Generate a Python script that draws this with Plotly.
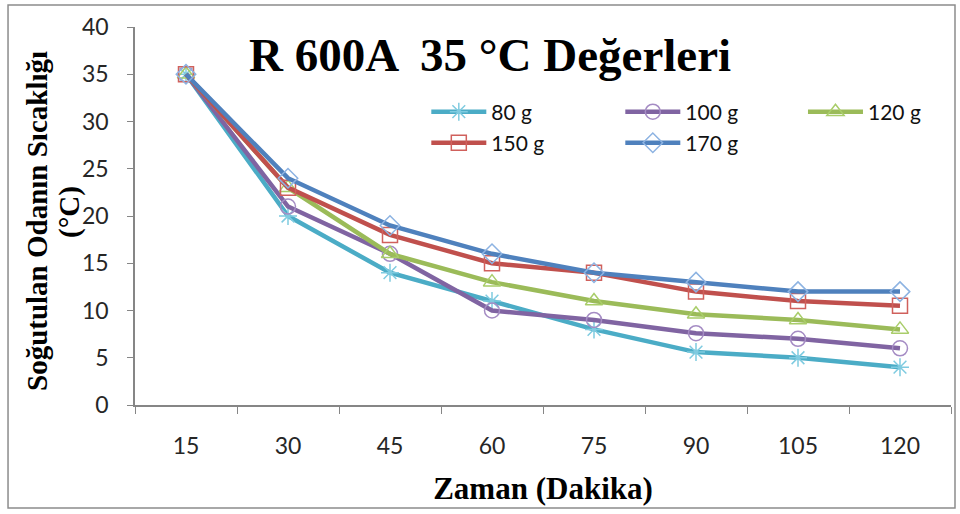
import plotly.graph_objects as go

categories = ["15", "30", "45", "60", "75", "90", "105", "120"]
series_names = ["80 g", "100 g", "120 g", "150 g", "170 g"]
v80 = [35, 20, 14, 11, 8, 5.6, 5, 4]
v100 = [35, 21, 16, 10, 9, 7.6, 7, 6]
v120 = [35, 23, 16, 13, 11, 9.6, 9, 8]
v150 = [35, 23, 18, 15, 14, 12, 11, 10.5]
v170 = [35, 24, 19, 16, 14, 13, 12, 12]
y_ticks = [0, 5, 10, 15, 20, 25, 30, 35, 40]

values = [v80, v100, v120, v150, v170]
line_colors = ["#4BACC6", "#8064A2", "#9BBB59", "#C0504D", "#4F81BD"]
marker_colors = ["#7FCBE0", "#A58CC4", "#A9CD6A", "#D0605C", "#8DB3E2"]
symbols = ["asterisk-open", "circle-open", "triangle-up-open", "square-open", "diamond-open"]
legend_ids = ["legend", "legend", "legend2", "legend3", "legend3"]

fig = go.Figure()
for name, vals, lc, mc, sym, lg in zip(series_names, values, line_colors, marker_colors, symbols, legend_ids):
    fig.add_trace(go.Scatter(
        x=categories, y=vals, name=name, mode="lines+markers",
        line=dict(color=lc, width=4.5),
        marker=dict(symbol=sym, size=15, color=mc, line=dict(color=mc, width=1.5)),
        legend=lg,
    ))

leg_font = dict(family="Lato, Noto Sans, sans-serif", size=21, color="#111")
common = dict(orientation="h", xanchor="left", yanchor="middle",
              itemwidth=55, font=leg_font, bgcolor="rgba(0,0,0,0)")
serif = "Liberation Serif, Times New Roman, serif"

fig.update_layout(
    width=960, height=514,
    margin=dict(l=135, r=9, t=27, b=109, autoexpand=False),
    paper_bgcolor="white", plot_bgcolor="white",
    showlegend=True,
    legend=dict(x=0.357, y=0.775, entrywidth=124, entrywidthmode="pixels", **common),
    legend2=dict(x=0.8186, y=0.775, **common),
    legend3=dict(x=0.357, y=0.693, entrywidth=124, entrywidthmode="pixels", **common),
    annotations=[
        dict(text="<b>R 600A  35 °C Değerleri</b>", xref="paper", yref="paper",
             x=0.435, y=0.926, xanchor="center", yanchor="middle", showarrow=False,
             font=dict(family=serif, size=47, color="black")),
        dict(text="<b>Soğutulan Odanın Sıcaklığı</b>", xref="paper", yref="paper",
             x=(37 - 135) / 816, y=(405 - 221) / 378, xanchor="center", yanchor="middle",
             textangle=-90, showarrow=False,
             font=dict(family=serif, size=29, color="black")),
        dict(text="<b>(°C)</b>", xref="paper", yref="paper",
             x=(69 - 135) / 816, y=(405 - 212) / 378, xanchor="center", yanchor="middle",
             textangle=-90, showarrow=False,
             font=dict(family=serif, size=29, color="black")),
    ],
    shapes=[dict(type="rect", xref="paper", yref="paper",
                 x0=-0.1556, x1=1.0049, y0=-0.2725, y1=1.058,
                 line=dict(color="#8C8C8C", width=1.5))],
)

fig.update_xaxes(
    type="category", range=[-0.5, 7.5], tickson="boundaries",
    showline=True, linecolor="#868686", linewidth=1.5,
    ticks="outside", ticklen=7, tickcolor="#868686",
    ticklabelstandoff=20,
    tickfont=dict(family="Lato, Noto Sans, sans-serif", size=23, color="#262626"),
    showgrid=False, zeroline=False,
    title=dict(text="<b>Zaman (Dakika)</b>", standoff=19,
               font=dict(family=serif, size=31, color="black")),
)
fig.update_yaxes(
    range=[0, 40], tickvals=y_ticks,
    showline=True, linecolor="#868686", linewidth=1.5,
    ticks="outside", ticklen=6, tickcolor="#868686",
    ticklabelstandoff=14,
    tickfont=dict(family="Lato, Noto Sans, sans-serif", size=23, color="#262626"),
    showgrid=False, zeroline=False,
)

fig.write_html("out.html")
